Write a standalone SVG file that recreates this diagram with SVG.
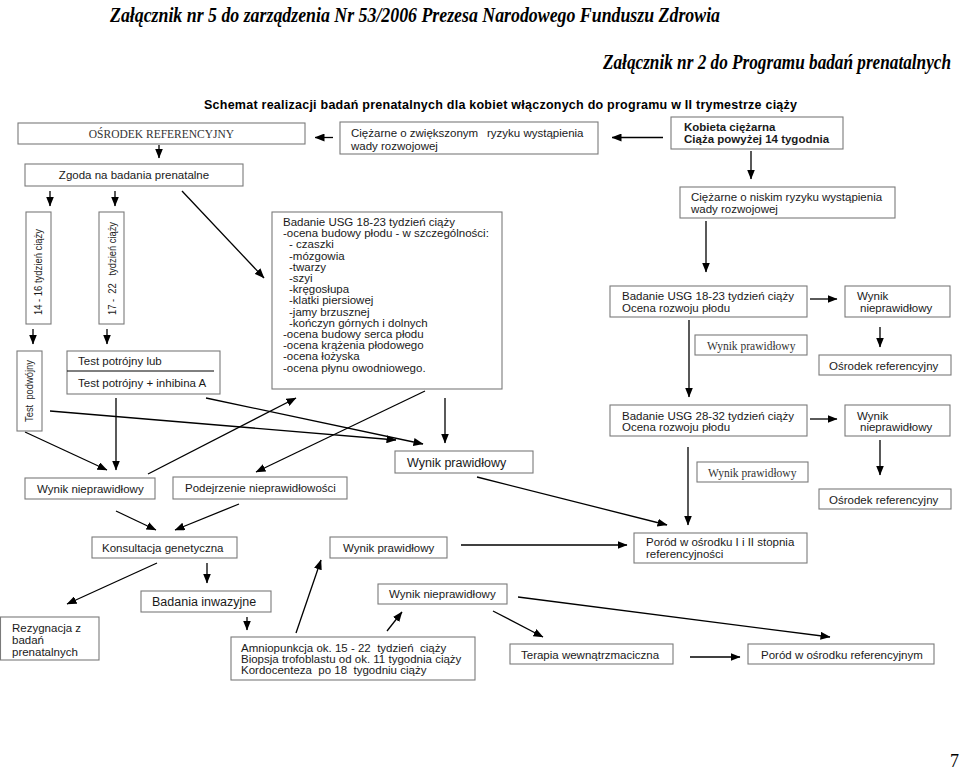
<svg xmlns="http://www.w3.org/2000/svg" width="960" height="770" viewBox="0 0 960 770">
<defs>
<marker id="ah" markerUnits="userSpaceOnUse" markerWidth="10" markerHeight="8" refX="9.5" refY="4" orient="auto">
<path d="M0,0 L10,4 L0,8 z" fill="#000"/>
</marker>
<style>
.bx{fill:#fff;stroke:#7a7a7a;stroke-width:1.1}
.t{font-family:"Liberation Sans",Arial,sans-serif;font-size:11.5px;fill:#1a1a1a}
.tb{font-family:"Liberation Sans",Arial,sans-serif;font-size:11.5px;font-weight:bold;fill:#1a1a1a}
.tl{font-family:"Liberation Sans",Arial,sans-serif;font-size:12.5px;fill:#1a1a1a}
.ts{font-family:"Liberation Serif","Times New Roman",serif;font-size:11.5px;fill:#333}
.tr{font-family:"Liberation Sans",Arial,sans-serif;font-size:10px;fill:#1a1a1a}
.hd{font-family:"Liberation Serif","Times New Roman",serif;font-size:21px;font-weight:bold;font-style:italic;fill:#000}
.c line{stroke:#000;stroke-width:1.3;marker-end:url(#ah)}
</style>
</defs>
<rect width="960" height="770" fill="#fff"/>

<text class="hd" x="110" y="22" textLength="610" lengthAdjust="spacingAndGlyphs">Załącznik nr 5 do zarządzenia Nr 53/2006  Prezesa Narodowego Funduszu Zdrowia</text>
<text class="hd" transform="translate(951,69) scale(0.82,1)" x="0" y="0" text-anchor="end">Załącznik nr 2 do Programu badań prenatalnych</text>
<text x="204" y="109" textLength="593" style="font-family:'Liberation Sans',Arial,sans-serif;font-size:12.5px;font-weight:bold;fill:#000">Schemat realizacji badań prenatalnych dla kobiet włączonych do programu w II trymestrze ciąży</text>
<text x="950" y="767" style="font-family:'Liberation Serif','Times New Roman',serif;font-size:18px;fill:#000">7</text>

<g id="connectors" class="c">
<line x1="663" y1="137.5" x2="612" y2="137.5"/>
<line x1="333" y1="137.5" x2="315" y2="137.5"/>
<line x1="159" y1="145" x2="159" y2="158"/>
<line x1="751" y1="151" x2="751" y2="179"/>
<line x1="50" y1="191" x2="50" y2="206"/>
<line x1="115" y1="191" x2="115" y2="206"/>
<line x1="182" y1="191" x2="264" y2="278"/>
<line x1="33" y1="329" x2="33" y2="344"/>
<line x1="107" y1="329" x2="107" y2="344"/>
<line x1="706" y1="221" x2="706" y2="272"/>
<line x1="810" y1="299" x2="837" y2="299"/>
<line x1="880" y1="327" x2="880" y2="347"/>
<line x1="689" y1="320" x2="689" y2="397"/>
<line x1="810" y1="419" x2="837" y2="419"/>
<line x1="880" y1="440" x2="880" y2="475"/>
<line x1="688" y1="447" x2="688" y2="525"/>
<line x1="25" y1="432" x2="107" y2="470"/>
<line x1="116" y1="398" x2="116" y2="470"/>
<line x1="50" y1="411" x2="396" y2="440"/>
<line x1="206" y1="398" x2="423" y2="444"/>
<line x1="148" y1="474" x2="296" y2="398"/>
<line x1="425" y1="391" x2="256" y2="472"/>
<line x1="445" y1="398" x2="445" y2="443"/>
<line x1="477" y1="477" x2="667" y2="525"/>
<line x1="116" y1="511" x2="156" y2="530"/>
<line x1="239" y1="504" x2="175" y2="530"/>
<line x1="461" y1="545" x2="627" y2="545"/>
<line x1="157" y1="563" x2="67" y2="604"/>
<line x1="207" y1="563" x2="207" y2="583"/>
<line x1="247" y1="617" x2="247" y2="630"/>
<line x1="296" y1="633" x2="321" y2="560"/>
<line x1="387" y1="631" x2="402" y2="612"/>
<line x1="493" y1="611" x2="543" y2="637"/>
<line x1="518" y1="597" x2="830" y2="637"/>
<line x1="690" y1="657" x2="740" y2="657"/>
</g>

<g id="osrodek-ref-top">
<rect class="bx" x="18" y="123" width="287" height="21"/>
<text class="ts" x="161.5" y="138" text-anchor="middle">OŚRODEK REFERENCYJNY</text>
</g>
<g id="wysokie-ryzyko">
<rect class="bx" x="340" y="122" width="258" height="32"/>
<text class="t" x="351" y="137">Ciężarne o zwiększonym<tspan x="487">ryzyku wystąpienia</tspan></text>
<text class="t" x="351" y="150">wady rozwojowej</text>
</g>
<g id="kobieta">
<rect class="bx" x="671" y="117" width="172" height="32"/>
<text class="tb" x="684" y="130.5">Kobieta ciężarna</text>
<text class="tb" x="684" y="143">Ciąża powyżej 14  tygodnia</text>
</g>
<g id="zgoda">
<rect class="bx" x="25" y="164" width="218" height="22"/>
<text class="t" x="134" y="179" text-anchor="middle">Zgoda na badania prenatalne</text>
</g>
<g id="niskie-ryzyko">
<rect class="bx" x="680" y="187" width="215" height="31"/>
<text class="t" x="691" y="201">Ciężarne o niskim ryzyku wystąpienia</text>
<text class="t" x="691" y="213">wady rozwojowej</text>
</g>
<g id="tydz-14-16">
<rect class="bx" x="26" y="212" width="25" height="112"/>
<text class="tr" transform="translate(42,272) rotate(-90)" text-anchor="middle" textLength="86" lengthAdjust="spacingAndGlyphs">14 - 16 tydzień ciąży</text>
</g>
<g id="tydz-17-22">
<rect class="bx" x="99" y="212" width="25" height="112"/>
<text class="tr" transform="translate(115.5,268.5) rotate(-90)" text-anchor="middle" textLength="93" lengthAdjust="spacingAndGlyphs" xml:space="preserve">17 -  22   tydzień ciąży</text>
</g>
<g id="usg-18-23-szczegoly">
<rect class="bx" x="272" y="212" width="230" height="177"/>
<text class="t" x="283" y="226">Badanie USG  18-23 tydzień ciąży</text>
<text class="t" x="283" y="237.2">-ocena budowy płodu - w szczególności:</text>
<text class="t" x="289" y="248.4">- czaszki</text>
<text class="t" x="289" y="259.6">-mózgowia</text>
<text class="t" x="289" y="270.8">-twarzy</text>
<text class="t" x="289" y="282">-szyi</text>
<text class="t" x="289" y="293.2">-kręgosłupa</text>
<text class="t" x="289" y="304.4">-klatki piersiowej</text>
<text class="t" x="289" y="315.6">-jamy brzusznej</text>
<text class="t" x="289" y="326.8">-kończyn górnych i dolnych</text>
<text class="t" x="283" y="338">-ocena budowy  serca płodu</text>
<text class="t" x="283" y="349.2">-ocena krążenia płodowego</text>
<text class="t" x="283" y="360.4">-ocena łożyska</text>
<text class="t" x="283" y="371.6">-ocena płynu owodniowego.</text>
</g>
<g id="test-podwojny">
<rect class="bx" x="17" y="351" width="25" height="80"/>
<text class="tr" transform="translate(33,391) rotate(-90)" text-anchor="middle" textLength="62" lengthAdjust="spacingAndGlyphs" xml:space="preserve">Test  podwójny</text>
</g>
<g id="test-potrojny">
<rect class="bx" x="67" y="351" width="153" height="43"/>
<line x1="67" y1="371" x2="214" y2="371" stroke="#000" stroke-width="1"/>
<text class="t" x="78" y="365">Test potrójny lub</text>
<text class="t" x="78" y="387">Test potrójny + inhibina A</text>
</g>
<g id="usg-18-23">
<rect class="bx" x="610" y="286" width="197" height="31"/>
<text class="t" x="622" y="300">Badanie USG 18-23 tydzień ciąży</text>
<text class="t" x="622" y="312">Ocena rozwoju płodu</text>
</g>
<g id="nieprawidlowy-r1">
<rect class="bx" x="845" y="286" width="105" height="31"/>
<text class="t" x="857" y="300">Wynik</text>
<text class="t" x="860" y="312">nieprawidłowy</text>
</g>
<g id="prawidlowy-r1">
<rect class="bx" x="695" y="335" width="112" height="20"/>
<text class="ts" x="707" y="349.5">Wynik prawidłowy</text>
</g>
<g id="osrodek-r1">
<rect class="bx" x="819" y="355" width="132" height="20"/>
<text class="t" x="829" y="369.5">Ośrodek referencyjny</text>
</g>
<g id="usg-28-32">
<rect class="bx" x="610" y="405" width="197" height="31"/>
<text class="t" x="622" y="420">Badanie USG 28-32 tydzień ciąży</text>
<text class="t" x="622" y="431">Ocena rozwoju płodu</text>
</g>
<g id="nieprawidlowy-r2">
<rect class="bx" x="845" y="405" width="105" height="31"/>
<text class="t" x="857" y="420">Wynik</text>
<text class="t" x="860" y="431">nieprawidłowy</text>
</g>
<g id="prawidlowy-mid">
<rect class="bx" x="395" y="451" width="138" height="22"/>
<text class="tl" x="407" y="466.5">Wynik prawidłowy</text>
</g>
<g id="prawidlowy-r2">
<rect class="bx" x="697" y="462" width="111" height="20"/>
<text class="ts" x="708" y="476.5">Wynik prawidłowy</text>
</g>
<g id="osrodek-r2">
<rect class="bx" x="819" y="489" width="132" height="20"/>
<text class="t" x="829" y="503.5">Ośrodek referencyjny</text>
</g>
<g id="nieprawidlowy-left">
<rect class="bx" x="25" y="478" width="130" height="21"/>
<text class="t" x="37" y="493">Wynik nieprawidłowy</text>
</g>
<g id="podejrzenie">
<rect class="bx" x="173" y="477" width="174" height="22"/>
<text class="t" x="185" y="492">Podejrzenie nieprawidłowości</text>
</g>
<g id="konsultacja">
<rect class="bx" x="92" y="537" width="145" height="21"/>
<text class="t" x="102" y="551.5">Konsultacja genetyczna</text>
</g>
<g id="prawidlowy-lower">
<rect class="bx" x="330" y="537" width="117" height="21"/>
<text class="t" x="343" y="551.5">Wynik prawidłowy</text>
</g>
<g id="porod-1-2">
<rect class="bx" x="634" y="533" width="173" height="30"/>
<text class="t" x="646" y="546">Poród w ośrodku I i II stopnia</text>
<text class="t" x="646" y="558">referencyjności</text>
</g>
<g id="badania-inwazyjne">
<rect class="bx" x="141" y="591" width="130" height="21"/>
<text class="tl" x="152" y="606">Badania inwazyjne</text>
</g>
<g id="nieprawidlowy-bottom">
<rect class="bx" x="378" y="584" width="129" height="20"/>
<text class="t" x="389" y="598">Wynik nieprawidłowy</text>
</g>
<g id="rezygnacja">
<rect class="bx" x="0.5" y="617" width="98.5" height="43"/>
<text class="t" x="12" y="632">Rezygnacja z</text>
<text class="t" x="12" y="644">badań</text>
<text class="t" x="12" y="656">prenatalnych</text>
</g>
<g id="amniopunkcja">
<rect class="bx" x="231" y="637" width="244" height="43"/>
<text class="t" x="241" y="652" xml:space="preserve">Amniopunkcja ok. 15 - 22  tydzień  ciąży</text>
<text class="t" x="241" y="663">Biopsja trofoblastu od ok. 11 tygodnia ciąży</text>
<text class="t" x="241" y="674" xml:space="preserve">Kordocenteza  po 18  tygodniu ciąży</text>
</g>
<g id="terapia">
<rect class="bx" x="510" y="644" width="163" height="20"/>
<text class="t" x="521" y="658.5">Terapia wewnątrzmaciczna</text>
</g>
<g id="porod-ref">
<rect class="bx" x="748" y="644" width="186" height="20"/>
<text class="t" x="761" y="658.5">Poród w ośrodku referencyjnym</text>
</g>
</svg>
